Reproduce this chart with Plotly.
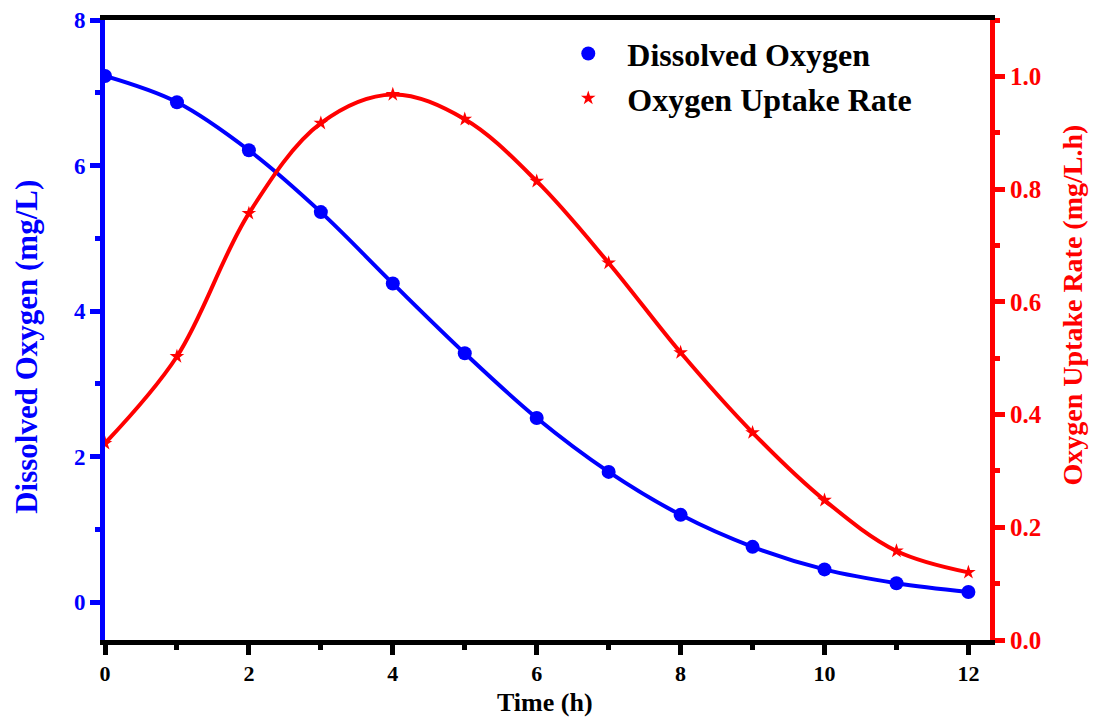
import plotly.graph_objects as go

time_h = [0, 1, 2, 3, 4, 5, 6, 7, 8, 9, 10, 11, 12]
dissolved_oxygen = [7.23, 6.87, 6.21, 5.36, 4.38, 3.42, 2.53, 1.79, 1.20, 0.76, 0.45, 0.26, 0.14]
uptake_rate = [0.349, 0.503, 0.757, 0.917, 0.968, 0.924, 0.814, 0.669, 0.510, 0.368, 0.248, 0.158, 0.120]

x_title = "Time (h)"
y_title = "Dissolved Oxygen (mg/L)"
y2_title = "Oxygen Uptake Rate (mg/L.h)"

FONT = "Liberation Serif"
BLUE = "#0000ff"
RED = "#ff0000"

fig = go.Figure()
fig.add_trace(go.Scatter(x=time_h, y=dissolved_oxygen, mode="lines",
                         line=dict(color=BLUE, width=4, shape="spline"),
                         showlegend=False, hoverinfo="skip"))
fig.add_trace(go.Scatter(x=time_h, y=dissolved_oxygen, mode="markers",
                         marker=dict(color=BLUE, size=14, symbol="circle"),
                         name="Dissolved Oxygen"))
fig.add_trace(go.Scatter(x=time_h, y=uptake_rate, mode="lines", yaxis="y2",
                         line=dict(color=RED, width=4, shape="spline"),
                         showlegend=False, hoverinfo="skip"))
fig.add_trace(go.Scatter(x=time_h, y=uptake_rate, mode="markers", yaxis="y2",
                         marker=dict(color=RED, size=11, symbol="star"),
                         name="Oxygen Uptake Rate"))

fig.update_layout(
    width=1096, height=718,
    margin=dict(l=105, r=106, t=20, b=78),
    plot_bgcolor="white", paper_bgcolor="white",
    font=dict(family=FONT, color="black"),
    xaxis=dict(range=[0, 12.3], tickvals=[0, 2, 4, 6, 8, 10, 12], automargin=False,
               ticks="outside", ticklen=10, tickwidth=5, tickcolor="black",
               minor=dict(ticks="outside", ticklen=5, tickwidth=5, dtick=1, tick0=0, tickcolor="black"),
               showline=True, linecolor="black", linewidth=5, mirror=True,
               showgrid=False, zeroline=False,
               tickfont=dict(family=FONT, size=22, color="black", weight="bold")),
    yaxis=dict(range=[-0.52, 8], tickvals=[0, 2, 4, 6, 8], automargin=False,
               ticks="outside", ticklen=10, tickwidth=5, tickcolor=BLUE,
               minor=dict(ticks="outside", ticklen=5, tickwidth=5, dtick=1, tick0=0, tickcolor=BLUE),
               showline=True, linecolor=BLUE, linewidth=5,
               showgrid=False, zeroline=False,
               tickfont=dict(family=FONT, size=23, color=BLUE, weight="bold")),
    yaxis2=dict(range=[0, 1.1], tickvals=[0, 0.2, 0.4, 0.6, 0.8, 1.0], tickformat=".1f",
                overlaying="y", side="right", automargin=False,
                ticks="outside", ticklen=10, tickwidth=5, tickcolor=RED,
                minor=dict(ticks="outside", ticklen=5, tickwidth=5, dtick=0.1, tick0=0, tickcolor=RED),
                showline=True, linecolor=RED, linewidth=5,
                showgrid=False, zeroline=False,
                tickfont=dict(family=FONT, size=25, color=RED, weight="bold")),
    legend=dict(x=0.502, y=0.99, xanchor="left", yanchor="top",
                bgcolor="rgba(0,0,0,0)",
                font=dict(family=FONT, size=32, color="black", weight="bold"),
                itemwidth=68),
)

fig.add_annotation(text=f"<b>{x_title}</b>", xref="paper", yref="paper",
                   x=0.497, y=-0.1016, xanchor="center", yanchor="middle", showarrow=False,
                   font=dict(family=FONT, size=26, color="black"))
fig.add_annotation(text=f"<b>{y_title}</b>", xref="paper", yref="paper", textangle=-90,
                   x=-0.088, y=0.473, xanchor="center", yanchor="middle", showarrow=False,
                   font=dict(family=FONT, size=31, color=BLUE))
fig.add_annotation(text=f"<b>{y2_title}</b>", xref="paper", yref="paper", textangle=-90,
                   x=1.093, y=0.54, xanchor="center", yanchor="middle", showarrow=False,
                   font=dict(family=FONT, size=28, color=RED))

fig.write_html("out.html")
